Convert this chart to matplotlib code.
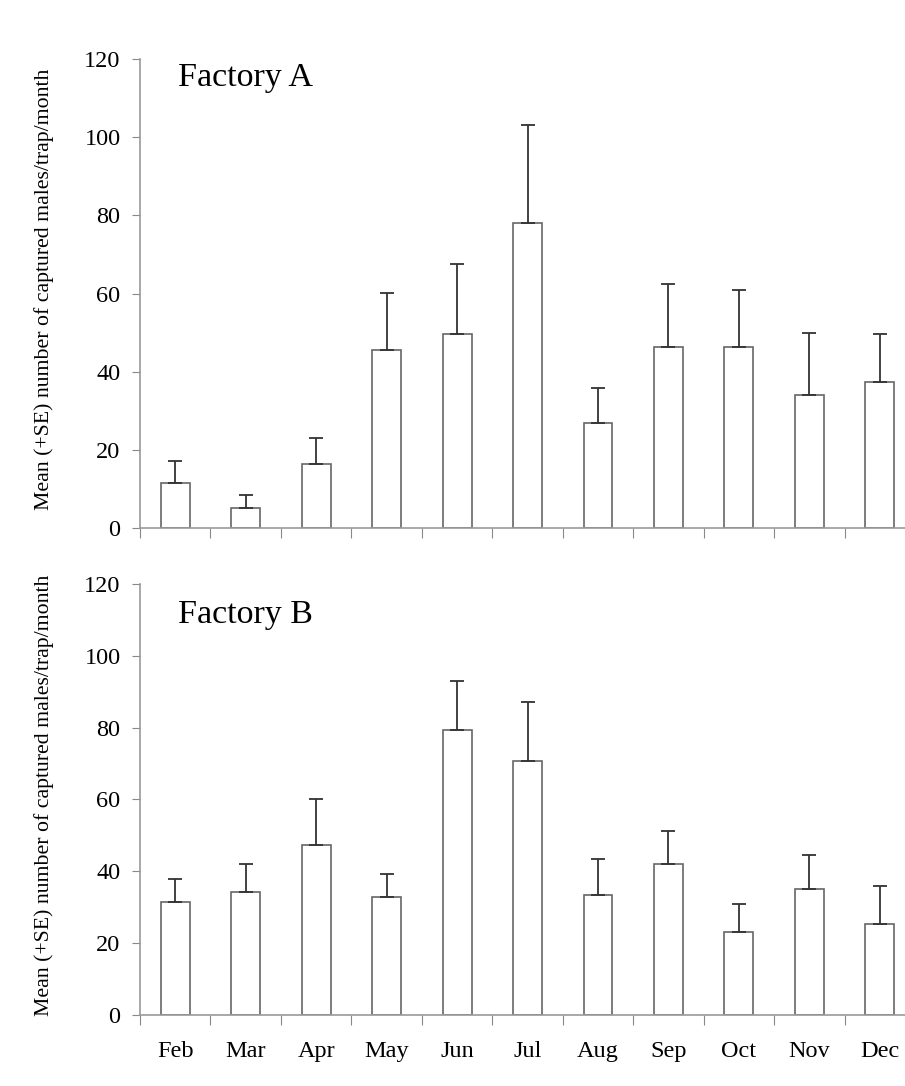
import numpy as np
import matplotlib
matplotlib.use("Agg")
import matplotlib.pyplot as plt

# months and values
months = ['Feb', 'Mar', 'Apr', 'May', 'Jun', 'Jul', 'Aug', 'Sep', 'Oct', 'Nov', 'Dec']

mean_a = [11.5, 5.2, 16.5, 45.5, 49.7, 78.0, 26.9, 46.4, 46.4, 34.1, 37.4]
top_a = [17.2, 8.5, 23.2, 60.2, 67.5, 103.0, 35.9, 62.6, 60.9, 50.0, 49.6]

mean_b = [31.4, 34.1, 47.2, 32.9, 79.2, 70.8, 33.3, 41.9, 23.1, 35.2, 25.4]
top_b = [37.9, 42.0, 60.2, 39.2, 93.0, 87.2, 43.4, 51.3, 31.0, 44.4, 35.9]

plt.rcParams['font.family'] = ['Liberation Serif', 'DejaVu Serif']

fig = plt.figure(figsize=(9.05, 10.86), dpi=100)

# axes deliberately run past the right edge (the original picture is cropped)
ax_a = fig.add_axes([0.1547, 0.5134, 0.8564, 0.4323])
ax_b = fig.add_axes([0.1547, 0.0654, 0.8564, 0.3969])

ylabel = 'Mean (+SE) number of captured males/trap/month'
x = np.arange(len(months))

for ax, mean, top in [(ax_a, mean_a, top_a), (ax_b, mean_b, top_b)]:
    mean = np.array(mean)
    top = np.array(top)
    ax.bar(x, mean, width=0.41, color='white', edgecolor='#666666', linewidth=1.2, zorder=2)
    ax.errorbar(x, mean, yerr=[np.zeros_like(mean), top - mean], fmt='none',
                ecolor='#333333', elinewidth=1.3, capsize=5, capthick=1.3, zorder=3)

    ax.set_xlim(-0.5, len(months) - 0.5)
    ax.set_ylim(0, 120)
    ax.set_yticks(range(0, 121, 20))
    # tick marks between months, labels under the bars
    ax.set_xticks(np.arange(len(months) + 1) - 0.5, minor=False)
    ax.set_xticklabels([])
    ax.set_xticks(x, minor=True)
    ax.tick_params(axis='x', which='major', direction='out', length=7, color='#888888')
    ax.tick_params(axis='x', which='minor', length=0, labelsize=17.5, pad=19)
    ax.tick_params(axis='y', direction='out', length=6, color='#888888', labelsize=17.5, pad=8)

    for side in ['top', 'right']:
        ax.spines[side].set_visible(False)
    for side in ['left', 'bottom']:
        ax.spines[side].set_color('#999999')
        ax.spines[side].set_linewidth(1.2)

    ax.set_ylabel(ylabel, fontsize=15.7)
    ax.yaxis.set_label_coords(-0.111, 0.51)

ax_b.set_xticklabels(months, minor=True)

fig.text(178 / 905, 1 - 86 / 1086, 'Factory A', fontsize=24.5, va='baseline', ha='left')
fig.text(178 / 905, 1 - 623 / 1086, 'Factory B', fontsize=24.5, va='baseline', ha='left')

plt.savefig('out.png', dpi=100)
